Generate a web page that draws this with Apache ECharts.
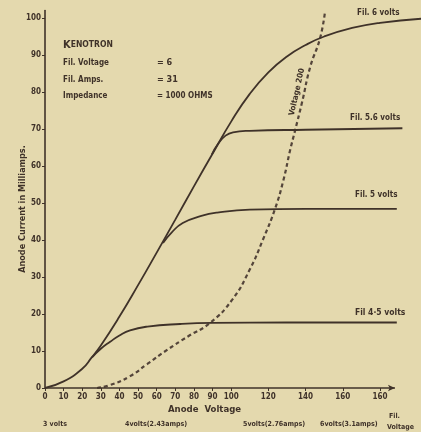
<!DOCTYPE html>
<html>
<head>
<meta charset="utf-8">
<script src="https://cdn.jsdelivr.net/npm/echarts@6/dist/echarts.min.js"></script>
<style>
html,body{margin:0;padding:0;background:#e4d9ae;}
#c{width:421px;height:432px;}
</style>
</head>
<body>
<div id="c"></div>
<script>
// ---- data ----
const xTickValues = [0,10,20,30,40,50,60,70,80,90,100,120,140,160,180];
const xTickLabels = ['0','10','20','30','40','50','60','70','80','90','100','120','140','160','160'];
const yTickValues = [0,10,20,30,40,50,60,70,80,90,100];
const yTickLabels = ['0','10','20','30','40','50','60','70','80','90','100'];

const fil6 = [[0,0],[10,1.8],[20,5.2],[25,8.2],[30,11.5],[40,19.3],[50,27.8],[60,36.6],[70,45.5],[80,54.5],[90,63.3],[100,72],[110,79.5],[120,85.3],[130,89.6],[140,92.7],[150,95],[165,97.3],[180,98.7],[202,99.8]];
const fil56 = [[89.6,63.1],[93,66],[97,68.2],[101,69.1],[110,69.5],[140,69.8],[192,70.2]];
const fil5 = [[63.4,39.2],[68,42],[74,44.6],[84,46.5],[92.5,47.4],[110,48.2],[140,48.4],[189,48.4]];
const fil45 = [[25.3,8.3],[30,10.6],[35,12.5],[40,14.2],[45.7,15.6],[55,16.6],[72.6,17.3],[90,17.6],[130,17.7],[189,17.7]];
const volt200 = [[28,0],[35,0.8],[45.7,3.2],[55,6.5],[65.6,10.3],[77,14],[88.7,17.6],[100.5,23.8],[110,32],[117,40],[123.7,48.6],[128,56],[131.7,64.3],[134.4,69.7],[138,77],[142.5,86.8],[147.8,94.6],[150.5,102]];
const xAxisEnd = 188;

const ink = '#3f3229';
const fontF = '"DejaVu Sans Condensed","DejaVu Sans",sans-serif';

const chart = echarts.init(document.getElementById('c'), null, {renderer:'canvas'});

function curve(name, data, dashed){
  return {
    name, type:'line', data, smooth:0.5, symbol:'none',
    lineStyle:{color: dashed ? '#54453a' : ink, width: dashed ? 2.2 : 1.8, type: dashed ? [4,3] : 'solid'},
    z: dashed ? 3 : 4, silent:true, clip:false
  };
}

function txt(x, y, text, opt){
  return {type:'text', x, y, style:Object.assign({text, fill:ink, font:'bold 8px '+fontF, verticalAlign:'middle'}, opt||{})};
}

chart.setOption({
  backgroundColor:'#e4d9ae',
  animation:false,
  grid:{left:45, right:0, top:10.6, bottom:44, containLabel:false},
  xAxis:{
    type:'value', min:0, max:202,
    axisLine:{show:false},
    axisTick:{show:true, customValues:xTickValues, length:3, lineStyle:{color:ink, width:1}},
    axisLabel:{customValues:xTickValues, margin:5, color:ink, fontSize:8, fontWeight:'bold', fontFamily:fontF,
      formatter:(v)=>{const i=xTickValues.indexOf(v); return i>=0?xTickLabels[i]:'';}},
    splitLine:{show:false}
  },
  yAxis:{
    type:'value', min:0, max:102,
    axisLine:{show:true, lineStyle:{color:ink, width:1.6}},
    axisTick:{show:true, customValues:yTickValues, length:3, lineStyle:{color:ink, width:1}},
    axisLabel:{customValues:yTickValues, margin:4, color:ink, fontSize:8, fontWeight:'bold', fontFamily:fontF,
      padding:[0,0,6,0],
      formatter:(v)=>{const i=yTickValues.indexOf(v); return i>=0?yTickLabels[i]:'';}},
    splitLine:{show:false}
  },
  series:[
    curve('Fil. 6 volts', fil6),
    curve('Fil. 5.6 volts', fil56),
    curve('Fil. 5 volts', fil5),
    curve('Fil. 4.5 volts', fil45),
    curve('Voltage 200', volt200, true),
    {
      name:'axis', type:'line', data:[], silent:true,
      markLine:{silent:true, symbol:['none','arrow'], symbolSize:[5,7], label:{show:false},
        lineStyle:{color:ink, width:1.5, type:'solid'},
        data:[[{coord:[0,0]},{coord:[xAxisEnd,0]}]]}
    }
  ],
  graphic:[
    {type:'text', x:23, y:209, rotation:Math.PI/2, style:{text:'Anode Current in Milliamps.', fill:ink, font:'bold 9px '+fontF, align:'center', verticalAlign:'middle'}},
    txt(63,45,'',{rich:{a:{fontSize:11,fontWeight:'bold',fill:ink,fontFamily:fontF},b:{fontSize:8.5,fontWeight:'bold',fill:ink,fontFamily:fontF}}, text:'{a|K}{b|ENOTRON}'}),
    txt(63,63,'Fil. Voltage'),
    txt(157,63,'= 6', {font:'bold 9px '+fontF}),
    txt(63,80,'Fil. Amps.'),
    txt(157,80,'= 31', {font:'bold 9px '+fontF}),
    txt(63,96,'Impedance'),
    txt(157,96,'= 1000 OHMS', {font:'bold 8px '+fontF}),
    txt(357,13,'Fil. 6 volts'),
    txt(350,118,'Fil. 5.6 volts'),
    txt(355,195,'Fil. 5 volts'),
    txt(355,313,'Fil 4·5 volts', {font:'bold 8.5px '+fontF}),
    {type:'text', x:297, y:92, rotation:Math.PI*0.43, style:{text:'Voltage 200', fill:ink, font:'bold 8px '+fontF, align:'center', verticalAlign:'middle'}},
    txt(168,410,'Anode  Voltage', {font:'bold 9.5px '+fontF}),
    txt(43,424,'3 volts', {font:'bold 7px '+fontF}),
    txt(125,424,'4volts(2.43amps)', {font:'bold 7px '+fontF}),
    txt(243,424,'5volts(2.76amps)', {font:'bold 7px '+fontF}),
    txt(320,424,'6volts(3.1amps)', {font:'bold 7px '+fontF}),
    txt(389,416,'Fil.', {font:'bold 7px '+fontF}),
    txt(387,427,'Voltage', {font:'bold 7px '+fontF})
  ]
});
</script>
</body>
</html>
